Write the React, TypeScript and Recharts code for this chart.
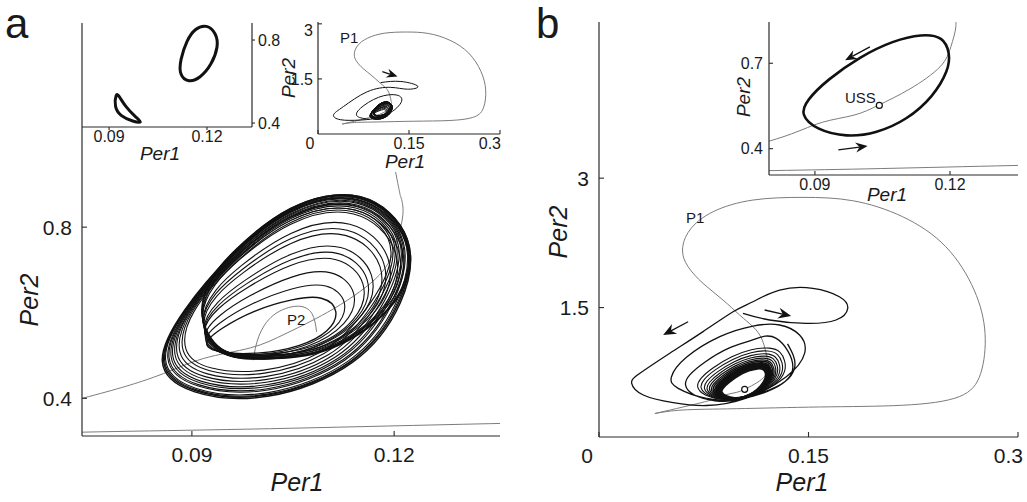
import React from 'react';
import { LineChart, Line, XAxis, YAxis, ReferenceLine, ReferenceDot } from 'recharts';

type P = [number, number];

const FONT = '"Liberation Sans", Arial, Helvetica, sans-serif';
const AX = '#2a2a2a';
const BLACK = '#111111';
const GRAY = '#7c7c7c';

// ---------- ticks / domains ----------
const mainAX: [number, number] = [0.0737, 0.1357];
const mainAY: [number, number] = [0.312, 1.277];
const mainBX: [number, number] = [0, 0.3];
const mainBY: [number, number] = [0, 4.81];
const insetA1X: [number, number] = [0.0817, 0.1338];
const insetA1Y: [number, number] = [0.381, 0.882];
const insetA2X: [number, number] = [0, 0.3];
const insetA2Y: [number, number] = [0, 3.05];
const insetBX: [number, number] = [0.0798, 0.1351];
const insetBY: [number, number] = [0.3075, 0.845];

const mainATicksX = [0.09, 0.12];
const mainATicksY = [0.4, 0.8];
const mainBTicksX = [0, 0.15, 0.3];
const mainBTicksY = [1.5, 3];
const insetA1TicksX = [0.09, 0.12];
const insetA1TicksY = [0.4, 0.8];
const insetA2TicksX = [0, 0.15, 0.3];
const insetA2TicksY = [1.5, 3];
const insetBTicksX = [0.09, 0.12];
const insetBTicksY = [0.4, 0.7];

// ---------- panel a: chaotic attractor (Per1, Per2) ----------
const attractorInner: P[] = [[0.0912,0.5242],[0.0942,0.5631],[0.0991,0.6060],[0.1051,0.6332],[0.1095,0.6410],[0.1120,0.6060],[0.1105,0.5553],[0.1061,0.5203],[0.1001,0.5032],[0.0942,0.5047]];

const attractorUpper: P[][] = [
  [[0.0911,0.5340],[0.0941,0.5785],[0.0987,0.6219],[0.1050,0.6599],[0.1102,0.6719],[0.1134,0.6266],[0.1118,0.5633],[0.1066,0.5175],[0.1001,0.4997],[0.0940,0.5018]],
  [[0.0910,0.5447],[0.0940,0.5953],[0.0983,0.6391],[0.1049,0.6887],[0.1110,0.7053],[0.1149,0.6489],[0.1133,0.5719],[0.1072,0.5145],[0.1002,0.4963],[0.0939,0.4989]],
  [[0.0909,0.5553],[0.0938,0.6120],[0.0978,0.6563],[0.1047,0.7176],[0.1118,0.7387],[0.1164,0.6711],[0.1148,0.5805],[0.1078,0.5114],[0.1001,0.5009],[0.0941,0.5028]],
  [[0.0909,0.5602],[0.0938,0.6197],[0.0976,0.6643],[0.1047,0.7309],[0.1121,0.7541],[0.1171,0.6814],[0.1154,0.5845],[0.1081,0.5100],[0.1002,0.4928],[0.0938,0.4959]],
  [[0.0909,0.5651],[0.0937,0.6274],[0.0974,0.6722],[0.1046,0.7443],[0.1125,0.7696],[0.1178,0.6917],[0.1161,0.5885],[0.1083,0.5086],[0.1002,0.4940],[0.0938,0.4969]],
  [[0.0908,0.5749],[0.0936,0.6428],[0.0970,0.6881],[0.1045,0.7709],[0.1132,0.8004],[0.1192,0.7123],[0.1174,0.5964],[0.1089,0.5058],[0.1002,0.4974],[0.0940,0.4998]],
  [[0.0907,0.5790],[0.0935,0.6493],[0.0968,0.6947],[0.1044,0.7820],[0.1135,0.8133],[0.1198,0.7208],[0.1180,0.5997],[0.1091,0.5046],[0.1001,0.4997],[0.0940,0.5018]],
  [[0.0907,0.5839],[0.0935,0.6570],[0.0966,0.7027],[0.1044,0.7953],[0.1139,0.8287],[0.1205,0.7311],[0.1187,0.6037],[0.1093,0.5032],[0.1002,0.4917],[0.0937,0.4950]],
  [[0.0906,0.5921],[0.0934,0.6698],[0.0963,0.7159],[0.1043,0.8175],[0.1145,0.8544],[0.1216,0.7483],[0.1198,0.6103],[0.1098,0.5009],[0.1001,0.4986],[0.0940,0.5008]],
  [[0.0906,0.5954],[0.0933,0.6750],[0.0961,0.7212],[0.1042,0.8264],[0.1147,0.8647],[0.1221,0.7551],[0.1202,0.6130],[0.1100,0.4999],[0.1002,0.4917],[0.0937,0.4950]],
  [[0.0906,0.5986],[0.0933,0.6801],[0.0960,0.7265],[0.1042,0.8353],[0.1150,0.8750],[0.1226,0.7620],[0.1207,0.6156],[0.1101,0.4990],[0.1002,0.4894],[0.0936,0.4930]],
  [[0.0905,0.6035],[0.0932,0.6878],[0.0958,0.7344],[0.1041,0.8486],[0.1153,0.8904],[0.1233,0.7723],[0.1214,0.6196],[0.1104,0.4976],[0.1002,0.4951],[0.0939,0.4979]],
  [[0.0905,0.6060],[0.0932,0.6917],[0.0957,0.7384],[0.1041,0.8553],[0.1155,0.8981],[0.1236,0.7774],[0.1217,0.6216],[0.1105,0.4969],[0.1002,0.4905],[0.0937,0.4940]],
];

const attractorLower: P[][] = [
  [[0.0883,0.5055],[0.0894,0.5996],[0.0962,0.7185],[0.1043,0.8220],[0.1146,0.8595],[0.1219,0.7517],[0.1150,0.5818],[0.1097,0.5016],[0.1005,0.4571],[0.0922,0.4657]],
  [[0.0878,0.5022],[0.0892,0.6004],[0.0961,0.7212],[0.1042,0.8264],[0.1147,0.8647],[0.1221,0.7551],[0.1158,0.5865],[0.1103,0.4983],[0.1006,0.4490],[0.0919,0.4589]],
  [[0.0872,0.4985],[0.0891,0.6013],[0.0961,0.7238],[0.1042,0.8309],[0.1148,0.8698],[0.1223,0.7586],[0.1167,0.5918],[0.1110,0.4946],[0.1007,0.4398],[0.0915,0.4511]],
  [[0.0867,0.4952],[0.0890,0.6019],[0.0960,0.7258],[0.1042,0.8342],[0.1149,0.8737],[0.1225,0.7611],[0.1174,0.5964],[0.1116,0.4913],[0.1007,0.4317],[0.0911,0.4443]],
  [[0.0863,0.4924],[0.0890,0.6026],[0.0960,0.7278],[0.1042,0.8375],[0.1150,0.8775],[0.1227,0.7637],[0.1181,0.6004],[0.1122,0.4885],[0.1008,0.4248],[0.0908,0.4385]],
  [[0.0859,0.4896],[0.0889,0.6032],[0.0959,0.7298],[0.1042,0.8409],[0.1151,0.8814],[0.1229,0.7663],[0.1188,0.6044],[0.1127,0.4857],[0.1008,0.4179],[0.0905,0.4326]],
  [[0.0856,0.4877],[0.0888,0.6036],[0.0959,0.7311],[0.1042,0.8431],[0.1152,0.8840],[0.1230,0.7680],[0.1192,0.6070],[0.1130,0.4838],[0.1009,0.4133],[0.0903,0.4287]],
  [[0.0852,0.4854],[0.0888,0.6042],[0.0958,0.7327],[0.1041,0.8457],[0.1152,0.8870],[0.1231,0.7700],[0.1198,0.6103],[0.1135,0.4815],[0.1009,0.4075],[0.0901,0.4239]],
  [[0.0850,0.4840],[0.0887,0.6045],[0.0958,0.7338],[0.1041,0.8475],[0.1153,0.8891],[0.1232,0.7714],[0.1201,0.6123],[0.1138,0.4801],[0.1010,0.4040],[0.0899,0.4209]],
  [[0.0846,0.4811],[0.0886,0.6051],[0.0958,0.7358],[0.1041,0.8509],[0.1154,0.8930],[0.1234,0.7740],[0.1208,0.6163],[0.1143,0.4772],[0.1010,0.3971],[0.0896,0.4151]],
  [[0.0844,0.4797],[0.0886,0.6054],[0.0957,0.7367],[0.1041,0.8524],[0.1154,0.8948],[0.1235,0.7752],[0.1211,0.6183],[0.1146,0.4758],[0.1011,0.3937],[0.0895,0.4122]],
  [[0.0842,0.4788],[0.0886,0.6056],[0.0957,0.7371],[0.1041,0.8531],[0.1154,0.8955],[0.1235,0.7757],[0.1214,0.6196],[0.1147,0.4749],[0.1011,0.3914],[0.0894,0.4102]],
  [[0.0840,0.4774],[0.0885,0.6060],[0.0957,0.7384],[0.1041,0.8553],[0.1155,0.8981],[0.1236,0.7774],[0.1217,0.6216],[0.1150,0.4735],[0.1011,0.3879],[0.0892,0.4073]],
];

// gray trajectory from P1
const p1Trajectory: P[] = [
  [0.0400,0.272],[0.0555,0.330],[0.0737,0.400],[0.0848,0.452],[0.0917,0.493],[0.0987,0.518],[0.1041,0.5526],
  [0.1111,0.610],[0.1178,0.688],[0.1202,0.7586],[0.1213,0.829],[0.1210,0.870],[0.1204,0.914],[0.1169,1.124],
  [0.1102,1.2785],[0.1007,1.4137],[0.0888,1.5875],[0.0745,1.7806],[0.0638,1.9738],[0.0598,2.1669],[0.0650,2.3986],
  [0.0817,2.6111],[0.1102,2.7463],[0.1460,2.7772],[0.1817,2.7385],[0.2174,2.5531],[0.2483,2.2055],[0.2686,1.7034],
  [0.2764,1.2013],[0.2733,0.7378],[0.2579,0.4674],[0.2174,0.368],[0.1579,0.348],[0.0983,0.328],[0.0600,0.313],[0.0400,0.272],
];

// gray trajectory from P2
const p2Trajectory: P[] = [[0.0991,0.4891],[0.0999,0.5437],[0.1021,0.5943],[0.1056,0.6153],[0.1078,0.5982],[0.1085,0.5553]];

// inset a1: two loops
const insetA1Upper: P[] = [[0.1199,0.876],[0.1229,0.8326],[0.1235,0.768],[0.1214,0.680],[0.1179,0.6157],[0.1143,0.5945],[0.1115,0.6316],[0.1118,0.7039],[0.1138,0.8003],[0.1164,0.8567]];
const insetA1Lower: P[] = [[0.0921,0.5434],[0.0916,0.4788],[0.0933,0.434],[0.0974,0.4065],[0.1005,0.3988],[0.0980,0.4306],[0.0950,0.4788],[0.0929,0.5352]];

// inset a2: black transient
const insetA2Transient: P[] = [
  [0.1033,1.40],[0.1367,1.43],[0.1645,1.30],[0.1478,1.22],[0.1200,1.27],[0.0811,1.15],[0.0422,0.75],[0.0256,0.52],
  [0.0367,0.39],[0.0700,0.38],[0.1100,0.50],[0.1367,0.85],[0.1300,1.06],[0.1000,1.00],[0.0700,0.70],[0.0650,0.48],[0.0850,0.40],
];

// ---------- panel b: approach to limit cycle ----------
const mainBTransient: P[] = [
  [0.1031,1.433],[0.1221,1.356],[0.1483,1.317],[0.1697,1.356],[0.1781,1.491],[0.1721,1.626],[0.1531,1.723],[0.1293,1.703],
  [0.1102,1.568],[0.0960,1.452],[0.0745,1.221],[0.0507,0.970],[0.0293,0.738],[0.0234,0.622],[0.0317,0.487],[0.0531,0.398],
  [0.0769,0.365],[0.1055,0.450],[0.1341,0.699],[0.1472,0.970],[0.1436,1.182],[0.1293,1.298],[0.1102,1.286],[0.0865,1.163],
  [0.0626,0.923],[0.0519,0.699],[0.0567,0.564],[0.0769,0.448],[0.1000,0.440],[0.1250,0.560],[0.1388,0.815],[0.1269,1.143],
  [0.1100,1.125],[0.0930,1.030],[0.0760,0.870],[0.0650,0.720],[0.0620,0.600],[0.0680,0.490],[0.0830,0.420],[0.1000,0.430],
  [0.1180,0.520],[0.1330,0.640],[0.1400,0.800],[0.1390,0.950],[0.1350,1.080],
];

const mainBSpiral: P[][] = [
  [[0.1230,1.0411],[0.1092,1.0214],[0.0951,0.9381],[0.0810,0.8015],[0.0720,0.6754],[0.0694,0.5756],[0.0747,0.4827],[0.0872,0.4260],[0.1011,0.4372],[0.1157,0.5143],[0.1280,0.6229],[0.1339,0.7630],[0.1333,0.8856],[0.1301,0.9941]],
  [[0.1217,1.0071],[0.1090,0.9869],[0.0958,0.9074],[0.0827,0.7786],[0.0743,0.6605],[0.0719,0.5674],[0.0770,0.4803],[0.0886,0.4280],[0.1015,0.4396],[0.1150,0.5124],[0.1263,0.6172],[0.1319,0.7507],[0.1314,0.8642],[0.1284,0.9655]],
  [[0.1204,0.9732],[0.1087,0.9524],[0.0965,0.8768],[0.0844,0.7558],[0.0766,0.6456],[0.0744,0.5593],[0.0792,0.4779],[0.0900,0.4300],[0.1019,0.4421],[0.1142,0.5105],[0.1247,0.6115],[0.1299,0.7384],[0.1295,0.8427],[0.1268,0.9369]],
  [[0.1193,0.9460],[0.1085,0.9247],[0.0971,0.8522],[0.0857,0.7375],[0.0785,0.6337],[0.0763,0.5527],[0.0810,0.4759],[0.0911,0.4316],[0.1021,0.4440],[0.1136,0.5089],[0.1233,0.6069],[0.1282,0.7285],[0.1280,0.8255],[0.1254,0.9140]],
  [[0.1184,0.9222],[0.1083,0.9006],[0.0976,0.8308],[0.0869,0.7215],[0.0801,0.6233],[0.0781,0.5470],[0.0826,0.4742],[0.0921,0.4330],[0.1024,0.4457],[0.1131,0.5076],[0.1222,0.6029],[0.1268,0.7199],[0.1267,0.8105],[0.1243,0.8940]],
  [[0.1176,0.9018],[0.1082,0.8798],[0.0980,0.8124],[0.0879,0.7078],[0.0815,0.6144],[0.0795,0.5421],[0.0839,0.4727],[0.0929,0.4342],[0.1026,0.4471],[0.1126,0.5064],[0.1211,0.5995],[0.1256,0.7125],[0.1255,0.7976],[0.1233,0.8768]],
  [[0.1169,0.8848],[0.1080,0.8626],[0.0983,0.7971],[0.0887,0.6963],[0.0826,0.6069],[0.0808,0.5381],[0.0850,0.4715],[0.0936,0.4352],[0.1028,0.4483],[0.1122,0.5055],[0.1203,0.5966],[0.1246,0.7063],[0.1246,0.7869],[0.1225,0.8625]],
  [[0.1163,0.8678],[0.1079,0.8453],[0.0987,0.7817],[0.0895,0.6849],[0.0838,0.5995],[0.0820,0.5340],[0.0861,0.4703],[0.0943,0.4362],[0.1030,0.4495],[0.1118,0.5045],[0.1195,0.5938],[0.1236,0.7001],[0.1236,0.7762],[0.1216,0.8482]],
  [[0.1158,0.8543],[0.1078,0.8315],[0.0990,0.7695],[0.0902,0.6758],[0.0847,0.5935],[0.0830,0.5307],[0.0870,0.4694],[0.0949,0.4370],[0.1031,0.4505],[0.1115,0.5038],[0.1188,0.5915],[0.1228,0.6952],[0.1229,0.7676],[0.1210,0.8367]],
  [[0.1152,0.8407],[0.1077,0.8177],[0.0992,0.7572],[0.0909,0.6666],[0.0856,0.5876],[0.0840,0.5275],[0.0879,0.4684],[0.0955,0.4378],[0.1033,0.4515],[0.1112,0.5030],[0.1181,0.5892],[0.1219,0.6903],[0.1221,0.7590],[0.1203,0.8253]],
  [[0.1148,0.8305],[0.1076,0.8073],[0.0994,0.7480],[0.0914,0.6598],[0.0863,0.5831],[0.0847,0.5250],[0.0886,0.4676],[0.0959,0.4384],[0.1034,0.4522],[0.1110,0.5024],[0.1176,0.5875],[0.1213,0.6866],[0.1215,0.7526],[0.1198,0.8167]],
  [[0.1143,0.8169],[0.1075,0.7935],[0.0997,0.7358],[0.0920,0.6506],[0.0873,0.5772],[0.0857,0.5218],[0.0895,0.4667],[0.0964,0.4392],[0.1036,0.4531],[0.1107,0.5017],[0.1170,0.5852],[0.1205,0.6816],[0.1208,0.7440],[0.1192,0.8052]],
];
const mainBSpiralWidths = [1.1, 1.1, 1.1, 1.1, 1.2, 1.3, 1.5, 1.7, 2, 2.2, 2.4, 2.6];

const limitCycle: P[] = [[0.1138,0.8033],[0.1074,0.7797],[0.1000,0.7235],[0.0927,0.6415],[0.0882,0.5712],[0.0867,0.5185],[0.0904,0.4657],[0.0970,0.4400],[0.1037,0.4541],[0.1104,0.5009],[0.1163,0.5829],[0.1197,0.6767],[0.1200,0.7354],[0.1185,0.7938]];

const ussPoint: P = [0.1043, 0.552];

// arrows: [tail, tip]
const mainBArrows: [P, P][] = [[[0.0638,1.336],[0.0459,1.182]], [[0.1186,1.472],[0.1376,1.402]]];
const insetBArrows: [P, P][] = [[[0.1022,0.7575],[0.0967,0.7106]], [[0.0952,0.3954],[0.1017,0.4095]]];
const insetA2Arrows: [P, P][] = [[[0.1061,1.699],[0.1311,1.563]]];

// ---------- helpers ----------
const pts = (a: P[]) => a.map(([x, y]) => ({ x, y }));

const lineEl = (key: string, data: P[], type: any, stroke: string, w: number) => (
  <Line key={key} data={pts(data)} dataKey="y" type={type} stroke={stroke} strokeWidth={w}
    dot={false} activeDot={false} isAnimationActive={false} legendType="none" />
);

const ArrowShape = (p: any) => {
  const { x1, y1, x2, y2, head } = p;
  const a = Math.atan2(y2 - y1, x2 - x1);
  const c = Math.cos(a), s = Math.sin(a);
  const L = head, W = head * 0.42;
  const bx = x2 - L * c, by = y2 - L * s;
  const mx = x2 - L * 0.68 * c, my = y2 - L * 0.68 * s;
  const pts2 = `${x2},${y2} ${bx - s * W},${by + c * W} ${mx},${my} ${bx + s * W},${by - c * W}`;
  return (
    <g>
      <line x1={x1} y1={y1} x2={mx} y2={my} stroke={BLACK} strokeWidth={1.3} />
      <polygon points={pts2} fill={BLACK} />
    </g>
  );
};

const arrowEls = (arrs: [P, P][], head: number, k: string) =>
  arrs.map(([a, b], i) => (
    <ReferenceLine key={k + i} segment={[{ x: a[0], y: a[1] }, { x: b[0], y: b[1] }]} ifOverflow="visible"
      shape={(p: any) => <ArrowShape {...p} head={head} />} />
  ));

type TickOpts = { side: 'bottom' | 'left' | 'right'; dir: number; len: number; fs: number; gap: number;
  adj?: (v: number) => { dx?: number; dy?: number; anchor?: string } };

const mkTick = (o: TickOpts) => (props: any) => {
  const { x, y, payload } = props;
  const v = payload.value;
  const a = o.adj ? o.adj(v) : {};
  let l: number[]; let tx: number; let ty: number; let anchor: string;
  if (o.side === 'bottom') { l = [x, y, x, y - o.dir * o.len]; tx = x; ty = y + o.gap; anchor = 'middle'; }
  else if (o.side === 'left') { l = [x, y, x + o.dir * o.len, y]; tx = x - o.gap; ty = y + o.fs * 0.36; anchor = 'end'; }
  else { l = [x, y, x - o.dir * o.len, y]; tx = x + o.gap; ty = y + o.fs * 0.36; anchor = 'start'; }
  return (
    <g>
      <line x1={l[0]} y1={l[1]} x2={l[2]} y2={l[3]} stroke={AX} strokeWidth={1.1} />
      <text x={tx + (a.dx || 0)} y={ty + (a.dy || 0)} textAnchor={(a.anchor || anchor) as any}
        fontSize={o.fs} fontFamily={FONT} fill="#1a1a1a">{String(v)}</text>
    </g>
  );
};

const tMainABottom = mkTick({ side: 'bottom', dir: 1, len: 5, fs: 21, gap: 26 });
const tMainLeft = mkTick({ side: 'left', dir: 1, len: 5, fs: 21, gap: 10 });
const tMainBBottom = mkTick({ side: 'bottom', dir: 1, len: 5, fs: 21, gap: 26,
  adj: (v) => (v === 0 ? { dx: -12 } : v === 0.3 ? { anchor: 'end', dx: 5 } : {}) });
const tInsetBBottom = mkTick({ side: 'bottom', dir: 1, len: 4, fs: 16, gap: 15 });
const tInsetBLeft = mkTick({ side: 'left', dir: 1, len: 4, fs: 16, gap: 6 });
const tA1Bottom = mkTick({ side: 'bottom', dir: -1, len: 3, fs: 16, gap: 15 });
const tA1Right = mkTick({ side: 'right', dir: -1, len: 3, fs: 16, gap: 6 });
const tA2Bottom = mkTick({ side: 'bottom', dir: 1, len: 4, fs: 16, gap: 15,
  adj: (v) => (v === 0 ? { dx: -8 } : v === 0.3 ? { anchor: 'end', dx: 1 } : {}) });
const tA2Left = mkTick({ side: 'left', dir: 1, len: 4, fs: 16, gap: 5, adj: (v) => (v === 3 ? { dy: 6 } : {}) });

const axisStyle = { stroke: AX, strokeWidth: 1.2 };

const frameX = (dom: [number, number]) => (
  <XAxis key="fx" xAxisId="top" orientation="top" type="number" domain={dom} allowDataOverflow
    tick={false} tickLine={false} height={0} axisLine={axisStyle} />
);
const frameYRight = (dom: [number, number]) => (
  <YAxis key="fyr" yAxisId="right" orientation="right" type="number" domain={dom} allowDataOverflow
    tick={false} tickLine={false} width={0} axisLine={axisStyle} />
);
const frameYLeft = (dom: [number, number]) => (
  <YAxis key="fyl" yAxisId="left" orientation="left" type="number" domain={dom} allowDataOverflow
    tick={false} tickLine={false} width={0} axisLine={axisStyle} />
);

const abs = (left: number, top: number): React.CSSProperties => ({ position: 'absolute', left, top });

const textStyle = { fontFamily: FONT, fill: '#1a1a1a' } as const;

export default function App() {
  return (
    <div style={{ position: 'absolute', left: 0, top: 0, width: 1027, height: 502, background: '#fff', overflow: 'hidden' }}>
      {/* main a */}
      <div style={abs(0, 0)}>
        <LineChart width={527} height={502} margin={{ top: 23, right: 27, left: 0, bottom: 0 }}>
          <XAxis dataKey="x" type="number" domain={mainAX} allowDataOverflow ticks={mainATicksX} interval={0}
            height={66} tickSize={0} tickMargin={0} tickLine={false} tick={tMainABottom} axisLine={axisStyle} />
          <YAxis type="number" domain={mainAY} allowDataOverflow ticks={mainATicksY} interval={0}
            width={82} tickSize={0} tickMargin={0} tickLine={false} tick={tMainLeft} axisLine={axisStyle} />
          {frameYRight([0, 1])}
          {lineEl('p1', p1Trajectory, 'natural', GRAY, 1)}
          {lineEl('p2', p2Trajectory, 'natural', GRAY, 1)}
          {lineEl('in', attractorInner, 'basisClosed', BLACK, 1.4)}
          {attractorUpper.map((l, i) => lineEl('u' + i, l, 'basisClosed', BLACK, i > 10 ? 1.5 : 1.1))}
          {attractorLower.map((l, i) => lineEl('l' + i, l, 'basisClosed', BLACK, i > 10 ? 1.5 : 1.1))}
        </LineChart>
      </div>

      {/* main b */}
      <div style={abs(520, 0)}>
        <LineChart width={507} height={502} margin={{ top: 22, right: 9, left: 0, bottom: 0 }}>
          <XAxis dataKey="x" type="number" domain={mainBX} allowDataOverflow ticks={mainBTicksX} interval={0}
            height={65} tickSize={0} tickMargin={0} tickLine={false} tick={tMainBBottom} axisLine={axisStyle} />
          <YAxis type="number" domain={mainBY} allowDataOverflow ticks={mainBTicksY} interval={0}
            width={79} tickSize={0} tickMargin={0} tickLine={false} tick={tMainLeft} axisLine={axisStyle} />
          {frameX([0, 1])}
          {frameYRight([0, 1])}
          {lineEl('p1', p1Trajectory, 'natural', GRAY, 1)}
          {lineEl('tr', mainBTransient, 'natural', BLACK, 1.3)}
          {mainBSpiral.map((l, i) => lineEl('s' + i, l, 'basisClosed', BLACK, mainBSpiralWidths[i]))}
          {lineEl('lc', limitCycle, 'basisClosed', BLACK, 3)}
          {arrowEls(mainBArrows, 13, 'ab')}
          <ReferenceDot x={ussPoint[0]} y={ussPoint[1]} r={3} fill="#fff" stroke={BLACK} strokeWidth={1.2} ifOverflow="visible" />
        </LineChart>
      </div>

      {/* white backgrounds of insets */}
      <div style={{ ...abs(83, 24), width: 192, height: 143, background: '#fff' }} />
      <div style={{ ...abs(262, 0), width: 237, height: 172, background: '#fff' }} />
      <div style={{ ...abs(730, 23), width: 287, height: 171, background: '#fff' }} />

      {/* inset a1 */}
      <div style={abs(82, 0)}>
        <LineChart width={220} height={167} margin={{ top: 23, right: 0, left: 0, bottom: 0 }}>
          <XAxis dataKey="x" type="number" domain={insetA1X} allowDataOverflow ticks={insetA1TicksX} interval={0}
            height={40} tickSize={0} tickMargin={0} tickLine={false} tick={tA1Bottom} axisLine={axisStyle} />
          <YAxis orientation="right" type="number" domain={insetA1Y} allowDataOverflow ticks={insetA1TicksY} interval={0}
            width={50} tickSize={0} tickMargin={0} tickLine={false} tick={tA1Right} axisLine={axisStyle} />
          {frameX([0, 1])}
          {frameYLeft([0, 1])}
          {lineEl('a1u', insetA1Upper, 'basisClosed', BLACK, 3)}
          {lineEl('a1l', insetA1Lower, 'basisClosed', BLACK, 3)}
        </LineChart>
      </div>

      {/* inset a2 */}
      <div style={abs(270, 0)}>
        <LineChart width={233} height={172} margin={{ top: 22, right: 3, left: 0, bottom: 0 }}>
          <XAxis dataKey="x" type="number" domain={insetA2X} allowDataOverflow ticks={insetA2TicksX} interval={0}
            height={38} tickSize={0} tickMargin={0} tickLine={false} tick={tA2Bottom} axisLine={axisStyle} />
          <YAxis type="number" domain={insetA2Y} allowDataOverflow ticks={insetA2TicksY} interval={0}
            width={48} tickSize={0} tickMargin={0} tickLine={false} tick={tA2Left} axisLine={axisStyle} />
          {frameX([0, 1])}
          {frameYRight([0, 1])}
          {lineEl('p1', p1Trajectory, 'natural', GRAY, 1)}
          {lineEl('tr', insetA2Transient, 'natural', BLACK, 1)}
          {attractorUpper.map((l, i) => lineEl('u' + i, l, 'basisClosed', BLACK, 1))}
          {attractorLower.map((l, i) => lineEl('l' + i, l, 'basisClosed', BLACK, 1))}
          {arrowEls(insetA2Arrows, 11, 'a2')}
        </LineChart>
      </div>

      {/* inset b */}
      <div style={abs(720, 0)}>
        <LineChart width={307} height={194} margin={{ top: 22, right: 9, left: 0, bottom: 0 }}>
          <XAxis dataKey="x" type="number" domain={insetBX} allowDataOverflow ticks={insetBTicksX} interval={0}
            height={19} tickSize={0} tickMargin={0} tickLine={false} tick={tInsetBBottom} axisLine={axisStyle} />
          <YAxis type="number" domain={insetBY} allowDataOverflow ticks={insetBTicksY} interval={0}
            width={49} tickSize={0} tickMargin={0} tickLine={false} tick={tInsetBLeft} axisLine={axisStyle} />
          {frameX([0, 1])}
          {frameYRight([0, 1])}
          {lineEl('p1', p1Trajectory, 'natural', GRAY, 1)}
          {lineEl('lc', limitCycle, 'basisClosed', BLACK, 2.6)}
          {arrowEls(insetBArrows, 12, 'ib')}
          <ReferenceDot x={ussPoint[0]} y={ussPoint[1]} r={3} fill="#fff" stroke={BLACK} strokeWidth={1.2} ifOverflow="visible" />
        </LineChart>
      </div>

      {/* text overlay */}
      <svg width={1027} height={502} style={{ position: 'absolute', left: 0, top: 0, pointerEvents: 'none' }}>
        <text x={5} y={38} fontSize={42} {...textStyle}>a</text>
        <text x={536} y={38} fontSize={42} {...textStyle}>b</text>
        <text x={297} y={491} fontSize={25} fontStyle="italic" textAnchor="middle" {...textStyle}>Per1</text>
        <text x={38} y={300} fontSize={25} fontStyle="italic" textAnchor="middle" transform="rotate(-90 38 300)" {...textStyle}>Per2</text>
        <text x={802} y={491} fontSize={25} fontStyle="italic" textAnchor="middle" {...textStyle}>Per1</text>
        <text x={567} y={232} fontSize={25} fontStyle="italic" textAnchor="middle" transform="rotate(-90 567 232)" {...textStyle}>Per2</text>
        <text x={160} y={160} fontSize={19} fontStyle="italic" textAnchor="middle" {...textStyle}>Per1</text>
        <text x={295} y={78} fontSize={19} fontStyle="italic" textAnchor="middle" transform="rotate(-90 295 78)" {...textStyle}>Per2</text>
        <text x={405} y={168} fontSize={19} fontStyle="italic" textAnchor="middle" {...textStyle}>Per1</text>
        <text x={887} y={201} fontSize={19} fontStyle="italic" textAnchor="middle" {...textStyle}>Per1</text>
        <text x={750} y={97} fontSize={19} fontStyle="italic" textAnchor="middle" transform="rotate(-90 750 97)" {...textStyle}>Per2</text>
        <text x={686} y={223} fontSize={15} {...textStyle}>P1</text>
        <text x={340} y={43} fontSize={15} {...textStyle}>P1</text>
        <text x={287} y={325} fontSize={15} {...textStyle}>P2</text>
        <text x={845} y={103} fontSize={15} {...textStyle}>USS</text>
      </svg>
    </div>
  );
}
